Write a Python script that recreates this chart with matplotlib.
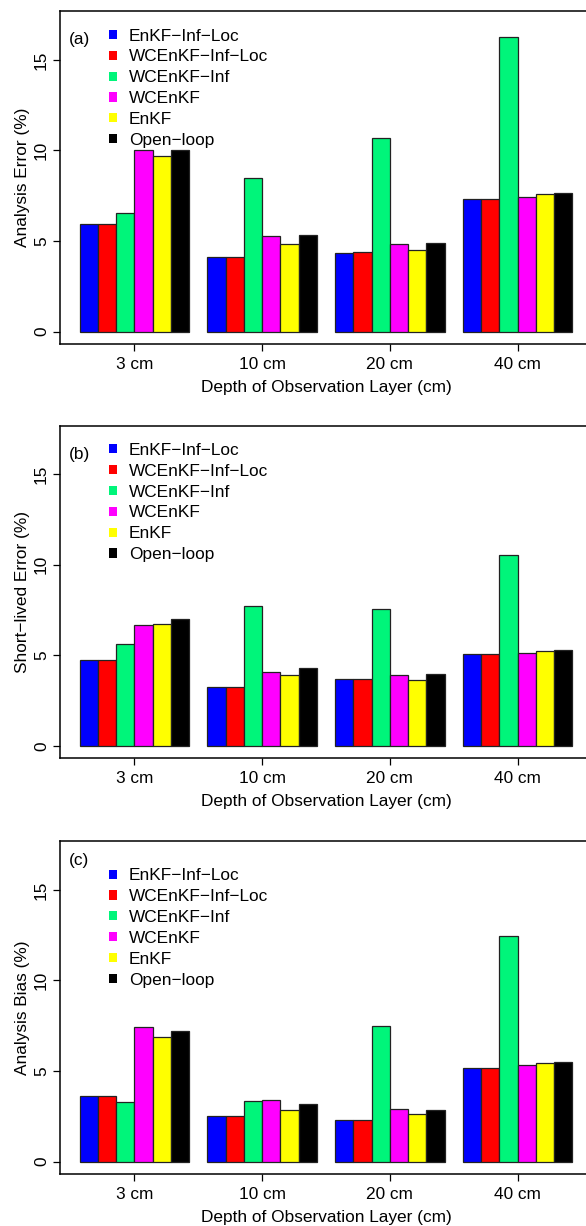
import numpy as np
import matplotlib
matplotlib.use("Agg")
import matplotlib.pyplot as plt
from matplotlib.patches import Patch

plt.rcParams['font.family'] = ['Liberation Sans', 'DejaVu Sans']

depths = ['3 cm', '10 cm', '20 cm', '40 cm']
methods = ['EnKF\u2212Inf\u2212Loc', 'WCEnKF\u2212Inf\u2212Loc', 'WCEnKF\u2212Inf',
           'WCEnKF', 'EnKF', 'Open\u2212loop']
colors = ['#0000FF', '#FF0000', '#00F57A', '#FF00FF', '#FFFF00', '#000000']

# rows = methods, columns = depths
analysis_error = [
    [5.95, 4.13, 4.35, 7.31],
    [5.95, 4.13, 4.39, 7.31],
    [6.54, 8.46, 10.68, 16.28],
    [10.04, 5.29, 4.85, 7.42],
    [9.69, 4.85, 4.53, 7.62],
    [10.04, 5.31, 4.88, 7.66],
]
short_lived_error = [
    [4.74, 3.25, 3.67, 5.10],
    [4.74, 3.25, 3.67, 5.10],
    [5.64, 7.73, 7.56, 10.52],
    [6.70, 4.06, 3.89, 5.12],
    [6.74, 3.93, 3.65, 5.23],
    [7.03, 4.30, 3.95, 5.29],
]
analysis_bias = [
    [3.60, 2.54, 2.30, 5.18],
    [3.60, 2.54, 2.30, 5.18],
    [3.31, 3.35, 7.50, 12.43],
    [7.41, 3.40, 2.92, 5.35],
    [6.89, 2.87, 2.61, 5.46],
    [7.19, 3.16, 2.85, 5.50],
]

panels = [
    ('(a)', 'Analysis Error (%)', analysis_error),
    ('(b)', 'Short\u2212lived Error (%)', short_lived_error),
    ('(c)', 'Analysis Bias (%)', analysis_bias),
]

fs = 12.4
fig = plt.figure(figsize=(5.86, 12.26), dpi=100)
bottoms = [0.7194, 0.3815, 0.0424]

n_groups = len(depths)
n_bars = len(methods)
group_left = 1 + np.arange(n_groups) * (n_bars + 1)

for k, (tag, ylab, data) in enumerate(panels):
    ax = fig.add_axes([0.1024, bottoms[k], 0.9078, 0.2714])
    for j in range(n_bars):
        ax.bar(group_left + j + 0.5, data[j], width=1.0, color=colors[j],
               edgecolor='#222222', linewidth=0.9)
    ax.set_xlim(-0.08, 29.08)
    ax.set_ylim(-0.68, 17.68)
    ax.set_xticks(group_left + n_bars / 2)
    ax.set_xticklabels(depths, fontsize=fs)
    ax.set_yticks([0, 5, 10, 15])
    ax.set_yticklabels(['0', '5', '10', '15'], fontsize=fs, rotation=90, va='center')
    ax.tick_params(axis='both', direction='out', length=5, width=0.9, color='black')
    ax.tick_params(axis='y', pad=3)
    ax.tick_params(axis='x', pad=4)
    for s in ax.spines.values():
        s.set_linewidth(1.1)
    ax.set_xlabel('Depth of Observation Layer (cm)', fontsize=fs, labelpad=6)
    ax.set_ylabel(ylab, fontsize=fs, labelpad=3)

    tag_y = 0.943 if tag == '(c)' else 0.914
    leg_y = 0.919 if tag == '(c)' else 0.948
    ax.text(0.017, tag_y, tag, transform=ax.transAxes, fontsize=fs,
            ha='left', va='center')
    handles = [Patch(facecolor=c, edgecolor='none') for c in colors]
    ax.legend(handles, methods, loc='upper left', bbox_to_anchor=(0.093, leg_y),
              frameon=False, fontsize=fs, handlelength=0.44, handleheight=0.44,
              handletextpad=0.7, labelspacing=0.34, borderpad=0, borderaxespad=0)

fig.savefig('out.png', dpi=100)
